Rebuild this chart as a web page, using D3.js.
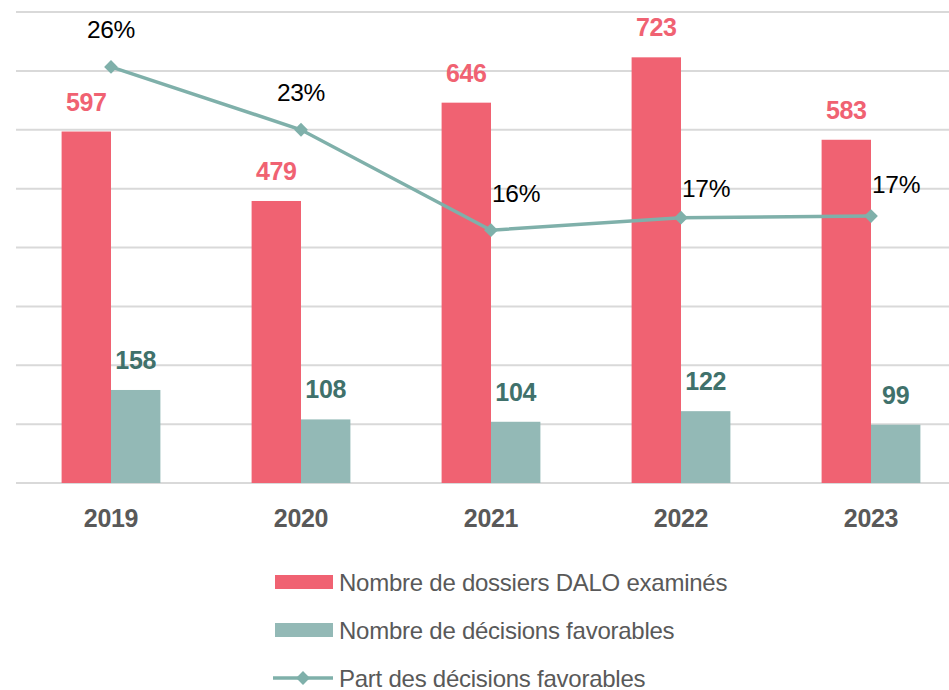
<!DOCTYPE html>
<html><head><meta charset="utf-8">
<script src="https://cdn.jsdelivr.net/npm/d3@7"></script>
<style>body{margin:0;background:#fff}svg{display:block;font-family:"Liberation Sans",Arial,sans-serif}</style>
</head><body><svg id="c" width="949" height="690"></svg>
<script>
const years = ["2019","2020","2021","2022","2023"];
const dossiers = [597,479,646,723,583];
const favorables = [158,108,104,122,99];
const part = [26.5,22.5,16.1,16.9,17.0];
const partLabels = ["26%","23%","16%","17%","17%"];
const partLabelPlacement = ["above","above","right","right","right"];
const partLabelDy = [-29,-29,-28,-21,-23];
const yTicks = [0,100,200,300,400,500,600,700,800];
const seriesNames = ["Nombre de dossiers DALO examinés","Nombre de décisions favorables","Part des décisions favorables"];

const colRed="#F06272", colTeal="#93B9B6", colLine="#7FB0AA", colTealText="#40716B", colAxis="#595959";
const svg=d3.select("#c");
const x0=d3.scaleBand().domain(years).range([16,966]).padding(0);
const bw=x0.bandwidth();
const x1=d3.scaleBand().domain(["d","f"]).range([bw*0.24,bw*0.76]);
const y=d3.scaleLinear().domain([0,800]).range([483,12]);
const y2=d3.scaleLinear().domain([0,30]).range([483,12]);

svg.append("g").selectAll("line").data(yTicks).join("line")
 .attr("x1",16).attr("x2",949).attr("y1",d=>y(d)).attr("y2",d=>y(d))
 .attr("stroke","#D9D9D9").attr("stroke-width",2);

const g=svg.append("g");
years.forEach((yr,i)=>{
  const bx=x0(yr);
  g.append("rect").attr("x",bx+x1("d")).attr("width",x1.bandwidth()).attr("y",y(dossiers[i])).attr("height",y(0)-y(dossiers[i])).attr("fill",colRed);
  g.append("rect").attr("x",bx+x1("f")).attr("width",x1.bandwidth()).attr("y",y(favorables[i])).attr("height",y(0)-y(favorables[i])).attr("fill",colTeal);
  g.append("text").attr("x",bx+x1("d")+x1.bandwidth()/2).attr("y",y(dossiers[i])-21).attr("text-anchor","middle")
   .attr("font-size",25).attr("font-weight","bold").attr("fill",colRed).attr("letter-spacing","-0.3").text(dossiers[i]);
  g.append("text").attr("x",bx+x1("f")+x1.bandwidth()/2).attr("y",y(favorables[i])-21).attr("text-anchor","middle")
   .attr("font-size",25).attr("font-weight","bold").attr("fill",colTealText).attr("letter-spacing","-0.3").text(favorables[i]);
});

// x axis labels
svg.append("g").selectAll("text").data(years).join("text")
 .attr("x",d=>x0(d)+bw/2).attr("y",527).attr("text-anchor","middle")
 .attr("font-size",25).attr("font-weight","bold").attr("fill",colAxis).attr("letter-spacing","-0.3").text(d=>d);

// line
const cx=i=>x0(years[i])+bw/2;
const line=d3.line().x((d,i)=>cx(i)).y(d=>y2(d));
svg.append("path").datum(part).attr("d",line).attr("fill","none").attr("stroke",colLine).attr("stroke-width",3.5);
svg.append("g").selectAll("path").data(part).join("path")
 .attr("transform",(d,i)=>`translate(${cx(i)},${y2(d)}) rotate(45)`)
 .attr("d",d3.symbol().type(d3.symbolSquare).size(95)).attr("fill",colLine);
svg.append("g").selectAll("text").data(part).join("text")
 .attr("x",(d,i)=>partLabelPlacement[i]==="above"?cx(i):cx(i)+1)
 .attr("y",(d,i)=>y2(d)+partLabelDy[i])
 .attr("text-anchor",(d,i)=>partLabelPlacement[i]==="above"?"middle":"start")
 .attr("font-size",24.5).attr("fill","#000").attr("letter-spacing","-0.3").text((d,i)=>partLabels[i]);

// legend
const lg=svg.append("g");
const ly=[582,630,678];
seriesNames.forEach((n,i)=>{
  if(i<2){
    lg.append("rect").attr("x",275).attr("y",ly[i]-7).attr("width",58).attr("height",14).attr("fill",i===0?colRed:colTeal);
  } else {
    lg.append("line").attr("x1",273).attr("x2",333).attr("y1",ly[i]).attr("y2",ly[i]).attr("stroke",colLine).attr("stroke-width",3.5);
    lg.append("path").attr("transform",`translate(303,${ly[i]}) rotate(45)`).attr("d",d3.symbol().type(d3.symbolSquare).size(95)).attr("fill",colLine);
  }
  lg.append("text").attr("x",339).attr("y",ly[i]+8.5).attr("font-size",24).attr("fill",colAxis).attr("letter-spacing","-0.25").text(n);
});
</script></body></html>
